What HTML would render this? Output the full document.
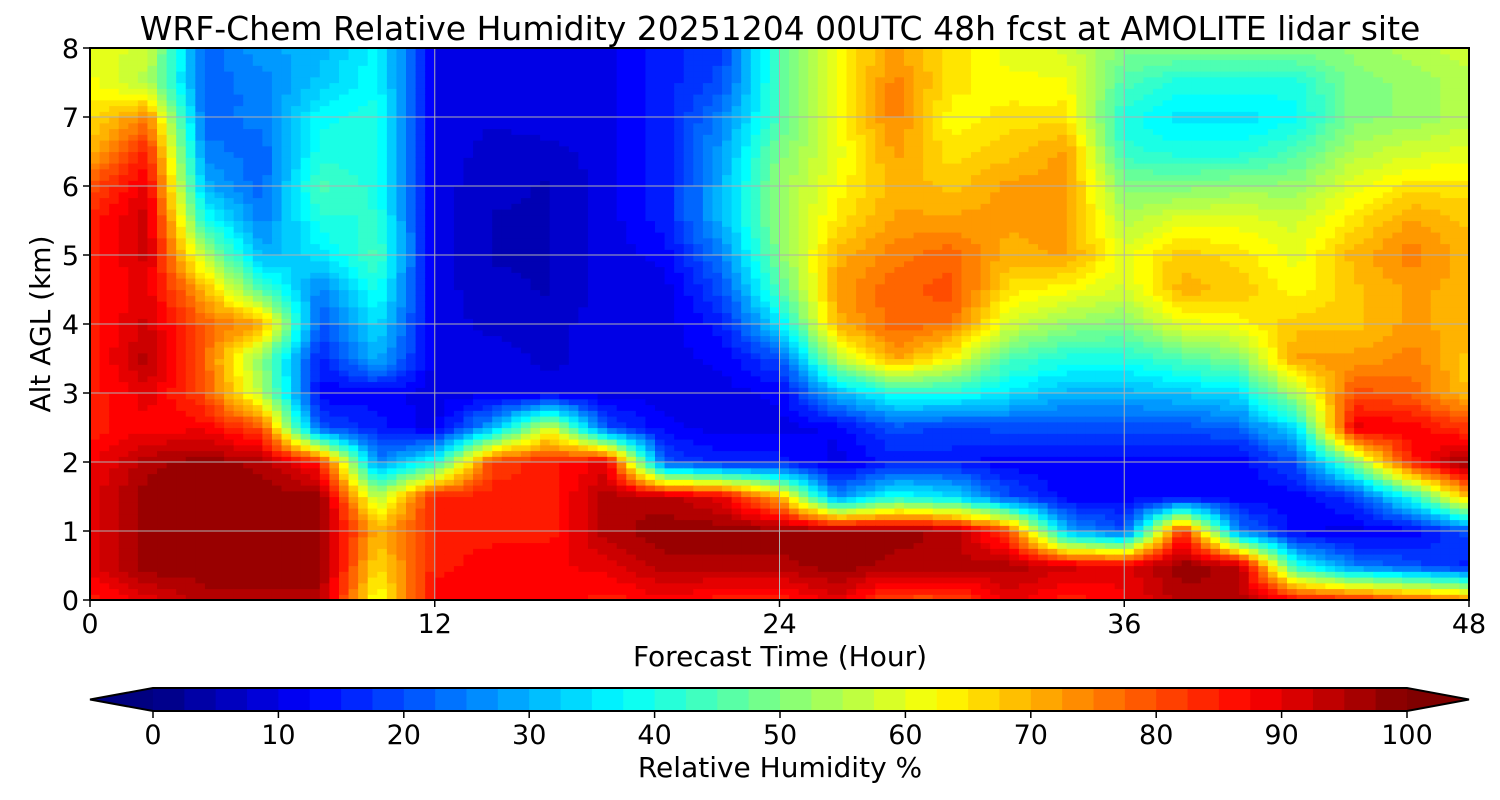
<!DOCTYPE html>
<html><head><meta charset="utf-8">
<style>
html,body{margin:0;padding:0;background:#fff;}
svg{display:block;font-family:"DejaVu Sans","Liberation Sans",sans-serif;}
</style></head>
<body>
<svg id="chart" width="1500" height="800">
<text x="780" y="40" text-anchor="middle" font-size="33">WRF-Chem Relative Humidity 20251204 00UTC 48h fcst at AMOLITE lidar site</text>
<g id="heat"></g>
<g id="grid"></g>
<rect x="90" y="48" width="1379" height="552" fill="none" stroke="#000" stroke-width="2"/>
<g id="axes"></g>
<text x="780" y="666" text-anchor="middle" font-size="28">Forecast Time (Hour)</text>
<text transform="translate(50,324) rotate(-90)" text-anchor="middle" font-size="28">Alt AGL (km)</text>
<g id="cbar"></g>
<text x="780" y="777" text-anchor="middle" font-size="28">Relative Humidity %</text>
</svg>
<script>
const hours = [0,2,4,6,8,10,12,14,16,18,20,22,24,26,28,30,32,34,36,38,40,42,44,46,48];
const altitudes = [0,0.5,1,1.5,2,2.5,3,3.5,4,4.5,5,5.5,6,6.5,7,7.5,8];
const rh = [
[85,90,90,90,88,85,85,85,85,85,85,85,80,70,65,62,60],
[90,98,98,98,95,88,90,95,92,90,92,93,90,85,75,55,58],
[95,98,98,98,98,88,80,78,78,70,55,40,30,25,22,22,22],
[95,98,98,98,95,80,55,50,72,45,30,25,22,22,25,25,28],
[95,98,98,98,85,20,12,15,20,25,35,40,45,40,38,32,30],
[60,65,70,55,25,15,12,30,35,40,45,42,40,40,40,38,38],
[88,85,85,85,40,10,10,10,10,10,10,10,10,10,10,10,10],
[88,88,85,85,82,30,10,10,8,7,6,6,7,8,9,10,10],
[88,88,85,85,85,60,10,8,8,6,6,6,6,8,10,10,10],
[85,90,95,95,90,20,10,10,10,10,10,10,10,10,10,10,10],
[88,95,98,95,20,12,10,10,10,10,12,15,15,15,15,15,15],
[85,95,98,90,15,10,10,12,15,20,25,30,30,28,25,20,18],
[85,95,98,70,15,10,12,20,35,45,50,52,52,50,45,45,45],
[90,98,98,25,10,12,30,55,70,72,70,65,62,60,62,62,62],
[80,95,98,40,15,20,40,72,78,78,75,72,70,72,75,75,72],
[80,95,95,35,15,18,40,62,76,80,78,72,68,65,62,65,65],
[90,95,80,20,12,20,35,45,58,65,70,72,72,68,65,62,60],
[85,92,30,12,12,20,30,40,52,62,72,72,72,72,65,62,58],
[88,90,20,12,12,20,30,40,50,58,60,55,50,42,40,45,50],
[95,98,85,12,12,20,32,45,60,70,68,60,50,40,35,40,50],
[95,95,25,12,12,22,35,50,62,68,65,60,52,40,35,40,50],
[88,40,12,12,20,35,55,72,68,62,60,58,52,45,38,40,50],
[85,25,10,18,50,90,80,72,68,68,70,65,60,55,50,50,52],
[80,20,12,40,85,88,78,75,72,72,75,72,65,58,52,52,55],
[75,15,20,70,98,82,68,68,70,70,70,68,65,60,55,55,58]
];
const xTicks = [0,12,24,36,48];
const yTicks = [0,1,2,3,4,5,6,7,8];
const cbTicks = [0,10,20,30,40,50,60,70,80,90,100];

const NS="http://www.w3.org/2000/svg";
const X0=90,X1=1469,Y0=600,Y1=48;
const xs=h=>X0+(h/48)*(X1-X0);
const ys=a=>Y0-(a/8)*(Y0-Y1);
function jet(v){
  const t=Math.max(0,Math.min(1,v/100));
  const c=x=>Math.round(255*Math.max(0,Math.min(1,x)));
  let r=c(1.5-Math.abs(4*t-3)),g=c(1.5-Math.abs(4*t-2)),b=c(1.5-Math.abs(4*t-1));
  return `rgb(${r},${g},${b})`;
}
function mk(tag,attrs,parent){const e=document.createElementNS(NS,tag);for(const k in attrs)e.setAttribute(k,attrs[k]);parent.appendChild(e);return e;}
function val(h,a){
  let i=Math.min(hours.length-2,Math.max(0,Math.floor(h/2)));
  let j=Math.min(altitudes.length-2,Math.max(0,Math.floor(a/0.5)));
  const fx=(h-hours[i])/2, fy=(a-altitudes[j])/0.5;
  const v00=rh[i][j],v10=rh[i+1][j],v01=rh[i][j+1],v11=rh[i+1][j+1];
  return v00*(1-fx)*(1-fy)+v10*fx*(1-fy)+v01*(1-fx)*fy+v11*fx*fy;
}
const heat=document.getElementById('heat');
const NX=144,NY=96;
for(let i=0;i<NX;i++){
  for(let j=0;j<NY;j++){
    const h0=48*i/NX,h1=48*(i+1)/NX,a0=8*j/NY,a1=8*(j+1)/NY;
    let v=val((h0+h1)/2,(a0+a1)/2);
    v=Math.round(v/2.5)*2.5;
    const r=mk('rect',{x:xs(h0).toFixed(2),y:ys(a1).toFixed(2),width:(xs(h1)-xs(h0)+0.6).toFixed(2),height:(ys(a0)-ys(a1)+0.6).toFixed(2),fill:jet(v)},heat);
    
    
  }
}
const grid=document.getElementById('grid'),axes=document.getElementById('axes');
xTicks.forEach(t=>{
  const l=mk('line',{x1:xs(t),x2:xs(t),y1:Y1,y2:Y0,stroke:'#b0b0b0','stroke-width':1},grid);
  
  
  const tk=mk('line',{x1:xs(t),x2:xs(t),y1:Y0,y2:Y0+7,stroke:'#000','stroke-width':1.5},axes);
  
  
  const tx=mk('text',{x:xs(t),y:Y0+33,'text-anchor':'middle','font-size':27},axes);
  tx.textContent=t;
  
  
});
yTicks.forEach(t=>{
  const l=mk('line',{x1:X0,x2:X1,y1:ys(t),y2:ys(t),stroke:'#b0b0b0','stroke-width':1},grid);
  
  
  const tk=mk('line',{x1:X0-7,x2:X0,y1:ys(t),y2:ys(t),stroke:'#000','stroke-width':1.5},axes);
  
  
  const tx=mk('text',{x:X0-11,y:ys(t)+10,'text-anchor':'end','font-size':27},axes);
  tx.textContent=t;
  
  
});
const cb=document.getElementById('cbar');
const C0=153,C1=1407,CT=688,CB=711;
const cx=v=>C0+(v/100)*(C1-C0);
for(let v=0;v<100;v+=2.5){
  const r=mk('rect',{x:cx(v),y:CT,width:cx(2.5)-cx(0)+0.5,height:CB-CT,fill:jet(v+1.25)},cb);
  
  
}
const lt=mk('polygon',{points:`${C0},${CT} 90,${(CT+CB)/2} ${C0},${CB}`,fill:jet(0)},cb);


const rt=mk('polygon',{points:`${C1},${CT} 1469,${(CT+CB)/2} ${C1},${CB}`,fill:jet(100)},cb);


const ol=mk('polygon',{points:`${C0},${CT} 90,${(CT+CB)/2} ${C0},${CB} ${C1},${CB} 1469,${(CT+CB)/2} ${C1},${CT}`,fill:'none',stroke:'#000','stroke-width':2},cb);


cbTicks.forEach(t=>{
  const tk=mk('line',{x1:cx(t),x2:cx(t),y1:CB,y2:CB+7,stroke:'#000','stroke-width':1.5},cb);
  
  
  const tx=mk('text',{x:cx(t),y:CB+33,'text-anchor':'middle','font-size':27},cb);
  tx.textContent=t;
  
  
});
</script>
</body></html>
